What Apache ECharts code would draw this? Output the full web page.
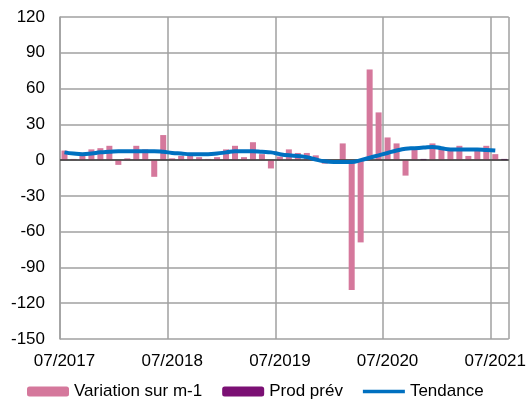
<!DOCTYPE html>
<html lang="fr">
<head>
<meta charset="UTF-8">
<title>Variation sur m-1</title>
<script src="https://cdn.jsdelivr.net/npm/echarts@6/dist/echarts.min.js"></script>
<style>
body{margin:0;background:#fff}
#main{width:529px;height:400px}
</style>
</head>
<body>
<div id="main"></div>
<script type="text/javascript">
var months = [
    '07/2017','08/2017','09/2017','10/2017','11/2017','12/2017','01/2018','02/2018','03/2018','04/2018','05/2018','06/2018',
    '07/2018','08/2018','09/2018','10/2018','11/2018','12/2018','01/2019','02/2019','03/2019','04/2019','05/2019','06/2019',
    '07/2019','08/2019','09/2019','10/2019','11/2019','12/2019','01/2020','02/2020','03/2020','04/2020','05/2020','06/2020',
    '07/2020','08/2020','09/2020','10/2020','11/2020','12/2020','01/2021','02/2021','03/2021','04/2021','05/2021','06/2021',
    '07/2021','08/2021'
];
var variation = [
    8, 1, 5, 9, 10, 12, -4, 1.5, 12, 9, -14, 21,
    1.5, 3.5, 3.5, 2.5, 1, 2.5, 9, 12, 2.5, 15, 5, -7,
    3, 9, 6, 6, 4, -3, -1, 14, -109, -69, 76, 40,
    19, 14, -13, 10, 0, 14, 9, 8, 12, 3.5, 8, 12,
    5, null
];
var prodPrev = [
    null, null, null, null, null, null, null, null, null, null, null, null,
    null, null, null, null, null, null, null, null, null, null, null, null,
    null, null, null, null, null, null, null, null, null, null, null, null,
    null, null, null, null, 1, null, null, null, null, null, null, null,
    null, 1
];
var tendance = [
    6.5, 5.5, 5, 5.5, 6.5, 7, 7.5, 7.5, 7.5, 7.5, 7.5, 7,
    6, 5.5, 5, 5, 5, 5.5, 6.5, 7.5, 7.5, 7.5, 7, 6.5,
    5, 4, 3.5, 2.5, 0.5, -1, -1.5, -1.5, -1.5, 0, 2, 4,
    6, 8, 9.5, 10, 10.5, 11, 10, 9, 9, 9, 9, 8.5,
    8, null
];

var font = 'Liberation Sans, Arial, sans-serif';
var gridColor = '#a0a0a0';

var myChart = echarts.init(document.getElementById('main'));
myChart.setOption({
    animation: false,
    textStyle: {fontFamily: font},
    grid: {left: 60, right: 19, top: 17, bottom: 61},
    legend: {
        left: 22,
        top: 378,
        itemWidth: 42,
        itemHeight: 10,
        itemGap: 20,
        textStyle: {fontSize: 17, color: '#000', fontFamily: font},
        data: [
            'Variation sur m-1',
            'Prod prév',
            {name: 'Tendance', icon: 'path://M0,0 L42,0 L42,3.5 L0,3.5 Z'}
        ]
    },
    xAxis: {
        type: 'category',
        data: months,
        boundaryGap: true,
        axisLine: {show: false},
        axisTick: {show: false},
        axisLabel: {interval: 11, margin: 14, fontSize: 17, color: '#000'},
        splitLine: {show: true, interval: 11, lineStyle: {color: gridColor, width: 1.5}}
    },
    yAxis: {
        type: 'value',
        min: -150,
        max: 120,
        interval: 30,
        axisLine: {show: true, lineStyle: {color: gridColor, width: 1.5}},
        axisTick: {show: false},
        axisLabel: {margin: 15, fontSize: 17, color: '#000'},
        splitLine: {lineStyle: {color: gridColor, width: 1.5}}
    },
    series: [
        {
            name: 'Variation sur m-1',
            type: 'bar',
            data: variation,
            barCategoryGap: '33%',
            itemStyle: {color: '#d5789c'},
            markLine: {
                silent: true,
                symbol: 'none',
                label: {show: false},
                lineStyle: {color: '#3a3a3a', width: 1.5, type: 'solid'},
                data: [{yAxis: 0}]
            }
        },
        {
            name: 'Prod prév',
            type: 'bar',
            data: prodPrev,
            barGap: '-100%',
            itemStyle: {color: '#7b1074'}
        },
        {
            name: 'Tendance',
            type: 'line',
            data: tendance,
            smooth: true,
            symbol: 'none',
            lineStyle: {color: '#0070c0', width: 4},
            itemStyle: {color: '#0070c0'},
            z: 5
        }
    ]
});
</script>
</body>
</html>
